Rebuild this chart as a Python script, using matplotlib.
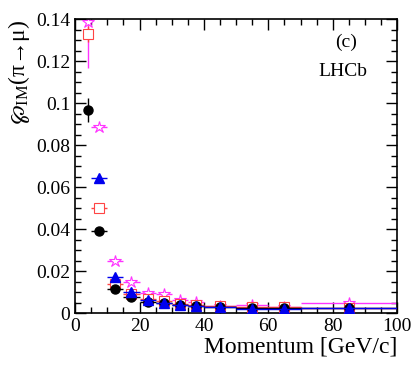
import numpy as np
import matplotlib.pyplot as plt
from matplotlib.ticker import MultipleLocator

plt.rcParams['font.family'] = ['Liberation Serif', 'DejaVu Serif']
plt.rcParams['mathtext.fontset'] = 'stix'
plt.rcParams['mathtext.default'] = 'regular'

# momentum bins [GeV/c]
bin_lo = np.array([3, 5, 10, 15, 20, 25, 30, 35, 40, 50, 60, 70])
bin_hi = np.array([5, 10, 15, 20, 25, 30, 35, 40, 50, 60, 70, 100])
bin_mid = np.array([4, 7.5, 12.5, 17.5, 22.5, 27.5, 32.5, 37.5, 45, 55, 65, 85])

# misID probability per sample
black_val = [0.0967, 0.039, 0.0114, 0.0075, 0.0052, 0.0046, 0.0038, 0.0033, 0.0028, 0.0022, 0.0022, 0.0022]
black_err = [0.0057, 0.0012, 0.0006, 0.0004, 0.0003, 0.0003, 0.0003, 0.0003, 0.0002, 0.0002, 0.0002, 0.0002]
red_val = [0.1329, 0.0502, 0.0138, 0.0090, 0.0065, 0.0055, 0.0045, 0.0040, 0.0032, 0.0027, 0.0027, 0.0025]
red_err = [0.004, 0.001, 0.0006, 0.0004, 0.0003, 0.0003, 0.0003, 0.0003, 0.0002, 0.0002, 0.0002, 0.0002]
blue_val = [np.nan, 0.0644, 0.0173, 0.0098, 0.0060, 0.0050, 0.0038, 0.0035, 0.0030, 0.0020, 0.0020, 0.0022]
blue_err = [0.0, 0.001, 0.0006, 0.0004, 0.0003, 0.0003, 0.0003, 0.0003, 0.0002, 0.0002, 0.0002, 0.0002]
mag_val = [0.1387, 0.0886, 0.0249, 0.0149, 0.0094, 0.0090, 0.0062, 0.0054, 0.0035, 0.0037, 0.0030, 0.0046]
mag_err = [0.022, 0.0015, 0.0008, 0.0006, 0.0005, 0.0005, 0.0004, 0.0004, 0.0003, 0.0003, 0.0003, 0.0003]

xerr = [bin_mid - bin_lo, bin_hi - bin_mid]

fig = plt.figure(figsize=(4.15, 3.74), dpi=100)
ax = fig.add_axes([0.181, 0.163, 0.776, 0.786])

ax.errorbar(bin_mid, mag_val, yerr=mag_err, xerr=xerr, fmt='*', color='#ff33ff',
            mfc='white', mec='#ff33ff', ms=9, mew=0.8, elinewidth=1, capsize=0, zorder=2)
ax.errorbar(bin_mid, red_val, yerr=red_err, xerr=xerr, fmt='s', color='#ff4444',
            mfc='white', mec='#ff4444', ms=6.5, mew=0.8, elinewidth=1, capsize=0, zorder=3)
ax.errorbar(bin_mid, black_val, yerr=black_err, xerr=xerr, fmt='o', color='black',
            ms=6.5, elinewidth=1, capsize=0, zorder=4)
ax.errorbar(bin_mid, blue_val, yerr=blue_err, xerr=xerr, fmt='^', color='#0000ee',
            ms=6.5, elinewidth=1, capsize=0, zorder=5)

ax.set_xlim(0, 100)
ax.set_ylim(0, 0.14)
ax.xaxis.set_major_locator(MultipleLocator(20))
ax.xaxis.set_minor_locator(MultipleLocator(5))
ax.yaxis.set_minor_locator(MultipleLocator(0.005))
ax.set_yticks([0, 0.02, 0.04, 0.06, 0.08, 0.1, 0.12, 0.14])
ax.set_yticklabels(['0', '0.02', '0.04', '0.06', '0.08', '0.1', '0.12', '0.14'])
ax.tick_params(which='both', direction='in', top=True, right=True, labelsize=14, width=1)
ax.tick_params(which='major', length=8)
ax.tick_params(which='minor', length=4)
for s in ax.spines.values():
    s.set_linewidth(1.2)

ax.set_xlabel('Momentum [GeV/c]', fontsize=17, loc='right', labelpad=1)
ax.set_ylabel(r'$\wp_{IM}(π→μ)$', fontsize=17, loc='top', labelpad=3)

ax.text(0.84, 0.905, '(c)', transform=ax.transAxes, fontsize=14, ha='center')
ax.text(0.83, 0.805, 'LHCb', transform=ax.transAxes, fontsize=14, ha='center')

fig.savefig('out.png', dpi=100)
